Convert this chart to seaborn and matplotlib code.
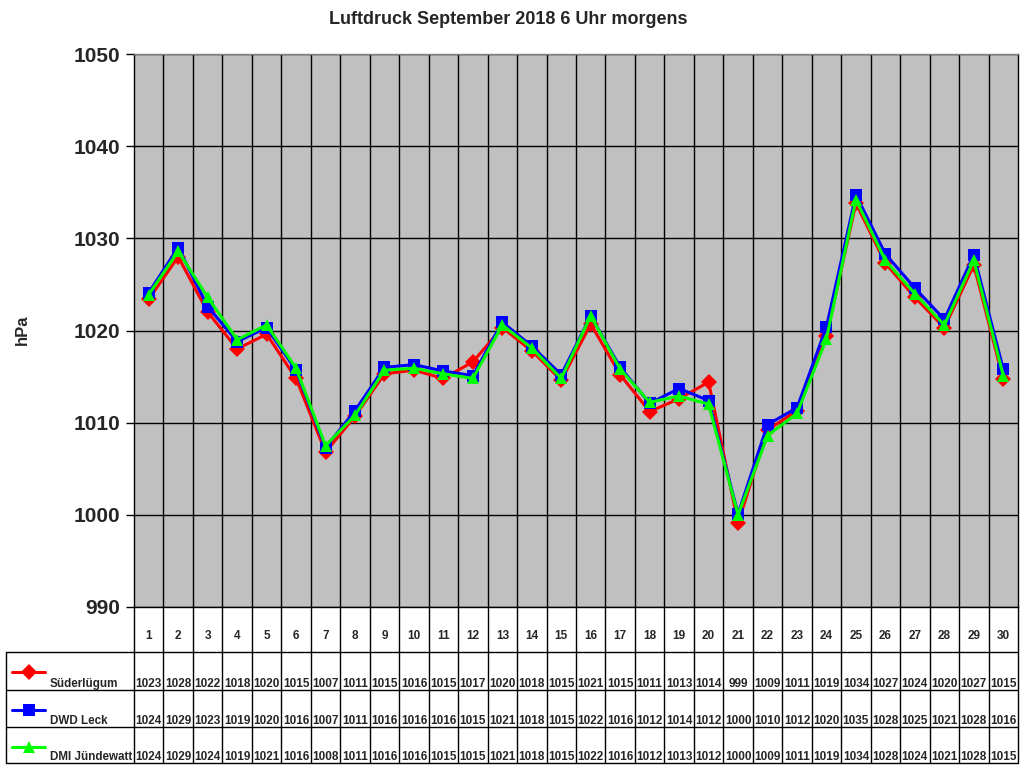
import numpy as np
import pandas as pd
import matplotlib
matplotlib.use("Agg")
import matplotlib.pyplot as plt
import seaborn as sns
from matplotlib.lines import Line2D

# ====== DATEN ======
tage = list(range(1, 31))
suederluegum = [1023.4, 1028.0, 1022.0, 1018.0, 1019.6, 1014.8, 1006.8, 1010.7, 1015.3, 1015.7,
                1014.8, 1016.6, 1020.3, 1017.8, 1014.6, 1020.7, 1015.2, 1011.2, 1012.6, 1014.4,
                999.1, 1009.2, 1011.3, 1019.4, 1033.8, 1027.3, 1023.6, 1020.3, 1027.1, 1014.7]
dwd_leck = [1024.1, 1029.0, 1022.6, 1018.8, 1020.3, 1015.7, 1007.3, 1011.3, 1016.0, 1016.3,
            1015.6, 1015.1, 1020.9, 1018.3, 1015.2, 1021.6, 1016.0, 1012.1, 1013.7, 1012.4,
            1000.1, 1009.8, 1011.6, 1020.4, 1034.7, 1028.3, 1024.6, 1021.2, 1028.2, 1015.8]
dmi_juendewatt = [1023.9, 1028.6, 1023.6, 1019.0, 1020.6, 1015.9, 1007.5, 1010.8, 1015.7, 1015.9,
                  1015.3, 1014.8, 1020.6, 1018.1, 1014.8, 1021.6, 1015.8, 1012.2, 1012.9, 1012.0,
                  1000.0, 1008.6, 1011.0, 1019.1, 1034.2, 1027.6, 1024.0, 1020.6, 1027.6, 1015.1]
stationen = ["Süderlügum", "DWD Leck", "DMI Jündewatt"]
farben = {"Süderlügum": "#FF0000", "DWD Leck": "#0000FF", "DMI Jündewatt": "#00FF00"}
marker = {"Süderlügum": "D", "DWD Leck": "s", "DMI Jündewatt": "^"}
y_ticks = [990, 1000, 1010, 1020, 1030, 1040, 1050]

df = pd.DataFrame({
    "Tag": tage * 3,
    "hPa": suederluegum + dwd_leck + dmi_juendewatt,
    "Station": [s for s in stationen for _ in tage],
})
werte = {"Süderlügum": suederluegum, "DWD Leck": dwd_leck, "DMI Jündewatt": dmi_juendewatt}

sns.set_style("white")
plt.rcParams["font.family"] = ["Liberation Sans", "DejaVu Sans"]
plt.rcParams["font.weight"] = "bold"

W, H = 1024, 768
fig = plt.figure(figsize=(W / 100, H / 100), dpi=100, facecolor="white")


def fx(x):
    return x / W


def fy(y):
    return 1 - y / H


# Plotbereich in Pixeln
L, R, T, B = 134, 1018, 54, 607
ax = fig.add_axes([fx(L), fy(B), fx(R - L), (B - T) / H])
ax.set_facecolor("#C0C0C0")

sns.lineplot(data=df, x="Tag", y="hPa", hue="Station", style="Station",
             palette=farben, markers=marker, dashes=False, hue_order=stationen,
             linewidth=2.2, markersize=8, markeredgewidth=0, ax=ax, legend=False, zorder=3)

ax.set_xlim(0.5, 30.5)
ax.set_ylim(990, 1050)
ax.set_yticks(y_ticks)
ax.set_yticklabels([str(v) for v in y_ticks], fontsize=15, fontweight="bold")
ax.set_xticks([t + 0.5 for t in tage[:-1]])
ax.set_xticklabels([])
ax.tick_params(axis="x", length=0)
ax.tick_params(axis="y", length=6, width=1, direction="out", color="black", pad=4, left=True)
ax.grid(True, color="black", linewidth=1)
ax.set_axisbelow(True)
ax.set_xlabel("")
ax.set_ylabel("")
for sp in ax.spines.values():
    sp.set_color("black")
    sp.set_linewidth(1)
ax.spines["top"].set_color("#808080")

fig.text(fx(22), fy(330), "hPa", rotation=90, ha="center", va="center",
         fontsize=12, fontweight="bold")
fig.text(fx(508), fy(20), "Luftdruck September 2018 6 Uhr morgens", ha="center",
         va="center", fontsize=13, fontweight="bold")

# ====== DATENTABELLE ======
breite = (R - L) / len(tage)
zeilen = [607, 652, 690, 727, 763]


def linie(x0, y0, x1, y1):
    fig.add_artist(Line2D([fx(x0), fx(x1)], [fy(y0), fy(y1)], color="black", linewidth=1))


for i in range(len(tage) + 1):
    linie(L + i * breite, B, L + i * breite, zeilen[-1])
for y in zeilen[1:]:
    linie(6, y, R, y)
linie(6, zeilen[1], 6, zeilen[-1])

for i, t in enumerate(tage):
    fig.text(fx(L + (i + 0.5) * breite), fy(636), str(t), ha="center", va="center",
             fontsize=8.5, fontweight="bold")

for r, s in enumerate(stationen):
    y_text = zeilen[r + 2] - 3
    for i, v in enumerate(werte[s]):
        fig.text(fx(L + (i + 0.5) * breite), fy(y_text), str(int(round(v))), ha="center",
                 va="baseline", fontsize=8.5, fontweight="bold")
    y_m = zeilen[r + 1] + 20
    fig.add_artist(Line2D([fx(12), fx(45)], [fy(y_m), fy(y_m)], color=farben[s], linewidth=2.2))
    fig.add_artist(Line2D([fx(28.5)], [fy(y_m)], color=farben[s], marker=marker[s],
                          markersize=8, markeredgewidth=0, linestyle="none"))
    fig.text(fx(50), fy(y_text), s, ha="left", va="baseline", fontsize=8.4, fontweight="bold")

fig.savefig("out.png", dpi=100, facecolor="white")
